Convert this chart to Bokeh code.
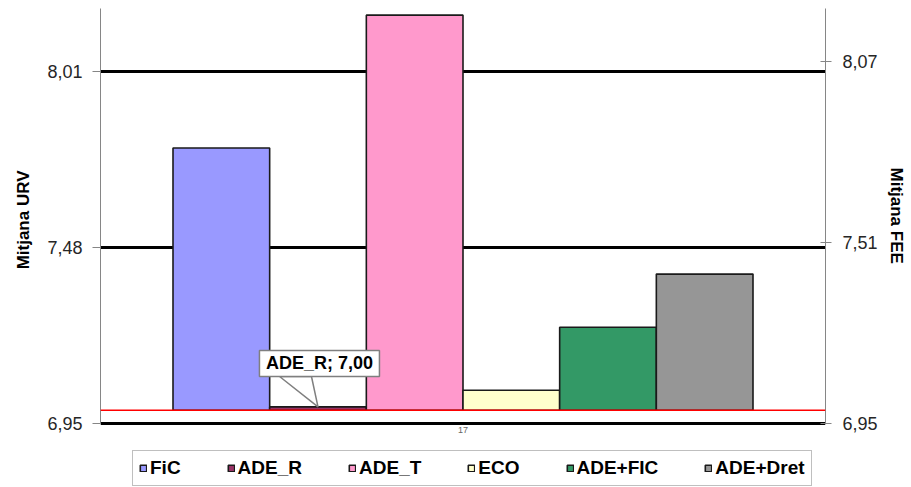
from bokeh.plotting import figure
from bokeh.models import (Range1d, LinearAxis, FixedTicker, Legend, LegendItem,
                          ColumnDataSource, Span, Title)
from bokeh.embed import file_html
from bokeh.resources import INLINE
from bokeh.core.properties import value

# ---------------- data ----------------
categories = ["17"]
series = ["FiC", "ADE_R", "ADE_T", "ECO", "ADE+FIC", "ADE+Dret"]
urv_values = [7.78, 7.00, 8.18, 7.05, 7.24, 7.40]
colors = ["#9999FF", "#993366", "#FF99CC", "#FFFFCC", "#339966", "#969696"]
baseline = 6.99
urv_axis = (6.95, 8.20)
fee_axis = (6.95, 8.234)
left_ticks = [6.95, 7.48, 8.01]
left_tick_labels = ["6,95", "7,48", "8,01"]
right_ticks = [6.95, 7.51, 8.07]
right_tick_labels = ["6,95", "7,51", "8,07"]
left_title = "Mitjana URV"
right_title = "Mitjana FEE"
annotated_series = "ADE_R"
annotation_text = "ADE_R; 7,00"

FONT = "Liberation Sans"

# frame extends below the value axis to host the legend
FRAME_H = 479
AXIS_H = 415
extra = (FRAME_H - AXIS_H)
urv_low = urv_axis[0] - (urv_axis[1] - urv_axis[0]) * extra / AXIS_H
fee_low = fee_axis[0] - (fee_axis[1] - fee_axis[0]) * extra / AXIS_H

p = figure(frame_width=725, frame_height=FRAME_H, x_range=Range1d(0, 1),
           y_range=Range1d(urv_low, urv_axis[1]),
           output_backend="svg", toolbar_location=None, x_axis_location=None,
           min_border_left=100, min_border_right=86, min_border_top=8, min_border_bottom=0)
p.outline_line_color = None
p.background_fill_color = "white"
p.xgrid.grid_line_color = None
p.ygrid.ticker = FixedTicker(ticks=left_ticks)
p.ygrid.grid_line_color = "black"
p.ygrid.grid_line_width = 3

# bars
n = len(series)
group_width = 0.8
w = group_width / n
cat_center = (0 + 0.5) / len(categories)
renderers = []
centers = []
for i, (s, v, c) in enumerate(zip(series, urv_values, colors)):
    xc = cat_center - group_width / 2 + w * (i + 0.5)
    centers.append(xc)
    src = ColumnDataSource(dict(x=[xc], top=[v], bottom=[baseline]))
    r = p.vbar(x="x", top="top", bottom="bottom", width=w, source=src,
               fill_color=c, line_color="#1a1a1a", line_width=1.6)
    renderers.append(r)

# red baseline
p.add_layout(Span(location=baseline, dimension="width", line_color="#FF0000", line_width=1.5))

# category label
p.text(x=[cat_center], y=[urv_axis[0]], text=categories, y_offset=3,
       text_align="center", text_baseline="top",
       text_font=value(FONT), text_font_size="9px", text_color="#666666")

# annotation callout
ai = series.index(annotated_series)
ax_c = centers[ai]
av = urv_values[ai]
box_bottom = av + 0.0915
box_center = av + 0.131
p.patch(x=[ax_c - 0.053, ax_c - 0.009, ax_c], y=[box_bottom, box_bottom, av],
        fill_color="white", line_color="#7f7f7f", line_width=1.5)
p.rect(x=[ax_c + 0.002], y=[box_center], width=120, height=26,
       width_units="screen", height_units="screen",
       fill_color="white", line_color="#7f7f7f", line_width=1.5)
p.text(x=[ax_c + 0.002], y=[box_center], text=[annotation_text],
       text_align="center", text_baseline="middle",
       text_font=value(FONT), text_font_style="bold", text_font_size="18px",
       text_color="black")

# left axis
ya = p.yaxis[0]
ya.bounds = urv_axis
ya.ticker = FixedTicker(ticks=left_ticks)
ya.major_label_overrides = dict(zip(left_ticks, left_tick_labels))
ya.axis_line_color = "#868686"
ya.major_tick_line_color = "#868686"
ya.major_tick_out = 8
ya.major_tick_in = 0
ya.minor_tick_line_color = None
ya.major_label_standoff = 10
ya.major_label_text_font = FONT
ya.major_label_text_font_size = "18px"
ya.major_label_text_color = "#262626"

# right axis
p.extra_y_ranges = {"fee": Range1d(fee_low, fee_axis[1])}
ra = LinearAxis(y_range_name="fee")
ra.bounds = fee_axis
ra.ticker = FixedTicker(ticks=right_ticks)
ra.major_label_overrides = dict(zip(right_ticks, right_tick_labels))
ra.axis_line_color = "#868686"
ra.major_tick_line_color = "#868686"
ra.major_tick_out = 6
ra.major_tick_in = 5
ra.minor_tick_line_color = None
ra.major_label_standoff = 11
ra.major_label_text_font = FONT
ra.major_label_text_font_size = "18px"
ra.major_label_text_color = "#262626"
p.add_layout(ra, "right")

# axis titles, centred on the value-axis extent
p.add_layout(Title(text=left_title, align="right", offset=162, vertical_align="middle",
                   standoff=21, text_font=FONT, text_font_style="bold",
                   text_font_size="17px", text_color="black"), "left")
p.add_layout(Title(text=right_title, align="left", offset=159, vertical_align="middle",
                   standoff=10, text_font=FONT, text_font_style="bold",
                   text_font_size="17px", text_color="black"), "right")

# legend (inside the extended frame, under the axis)
legend = Legend(items=[LegendItem(label=s, renderers=[r]) for s, r in zip(series, renderers)],
                orientation="horizontal", location=(32, 1),
                padding=6, spacing=46, glyph_width=8, glyph_height=8, label_standoff=3,
                label_text_font=FONT, label_text_font_style="bold",
                label_text_font_size="19px", label_text_color="black",
                border_line_color="#808080", border_line_width=1.5,
                background_fill_color="white", margin=0)
p.add_layout(legend, "center")

open("out.html", "w").write(file_html(p, INLINE))
